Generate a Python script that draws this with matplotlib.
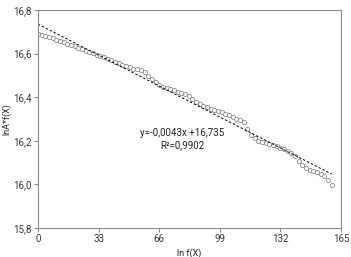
import numpy as np
import matplotlib
matplotlib.use("Agg")
import matplotlib.pyplot as plt
from matplotlib.ticker import FuncFormatter

x_vals = list(range(0, 161, 2))
y_vals = [16.690, 16.686, 16.681, 16.676, 16.670, 16.664, 16.658, 16.652, 16.646, 16.640,
          16.634, 16.627, 16.620, 16.613, 16.607, 16.601, 16.595, 16.589, 16.583, 16.576,
          16.569, 16.562, 16.555, 16.549, 16.543, 16.537, 16.531, 16.528, 16.525, 16.514,
          16.498, 16.484, 16.469, 16.456, 16.448, 16.442, 16.437, 16.432, 16.426, 16.420,
          16.414, 16.406, 16.393, 16.379, 16.369, 16.361, 16.354, 16.348, 16.342, 16.336,
          16.330, 16.324, 16.317, 16.310, 16.302, 16.295, 16.284, 16.254, 16.228, 16.211,
          16.200, 16.195, 16.191, 16.186, 16.180, 16.174, 16.168, 16.161, 16.154, 16.146,
          16.130, 16.107, 16.088, 16.074, 16.068, 16.062, 16.055, 16.047, 16.038, 16.020,
          15.998]

slope = -0.0043
intercept = 16.735
r2 = 0.9902

x_ticks = [0, 33, 66, 99, 132, 165]
y_ticks = [15.8, 16.0, 16.2, 16.4, 16.6, 16.8]

plt.rcParams['font.family'] = ['Roboto', 'DejaVu Sans']

fig = plt.figure(figsize=(3.51, 2.57), dpi=100)
ax = fig.add_axes([0.1083, 0.1128, 0.8632, 0.8483])

ax.plot(x_vals, y_vals, linestyle='none', marker='o', markersize=3.0,
        markerfacecolor='white', markeredgecolor='#8a8a8a', markeredgewidth=0.6)

xs = np.array([x_vals[0], x_vals[-1]])
ax.plot(xs, slope * xs + intercept, color='black', linestyle=(0, (2.5, 2)), linewidth=0.7)

ax.text(78.5, 16.236, 'y=-0,0043x +16,735', ha='center', va='center',
        fontsize=7, color='#222222')
ax.text(78.5, 16.181, 'R²=0,9902', ha='center', va='center',
        fontsize=7, color='#222222')

ax.set_xlim(0, 165)
ax.set_ylim(15.8, 16.8)
ax.set_xticks(x_ticks)
ax.set_yticks(y_ticks)
ax.yaxis.set_major_formatter(FuncFormatter(lambda v, p: f"{v:.1f}".replace('.', ',')))

for s in ax.spines.values():
    s.set_color('#8c8c8c')
    s.set_linewidth(0.8)
ax.tick_params(direction='out', length=3, width=0.8, color='#8c8c8c',
               labelsize=7, labelcolor='#333333', pad=1.5)

ax.set_xlabel('ln f(X)', fontsize=6.5, color='#222222', labelpad=3)
ax.set_ylabel('lnA*f(X)', fontsize=6.5, color='#222222', labelpad=1)

fig.savefig('out.png', dpi=100)
